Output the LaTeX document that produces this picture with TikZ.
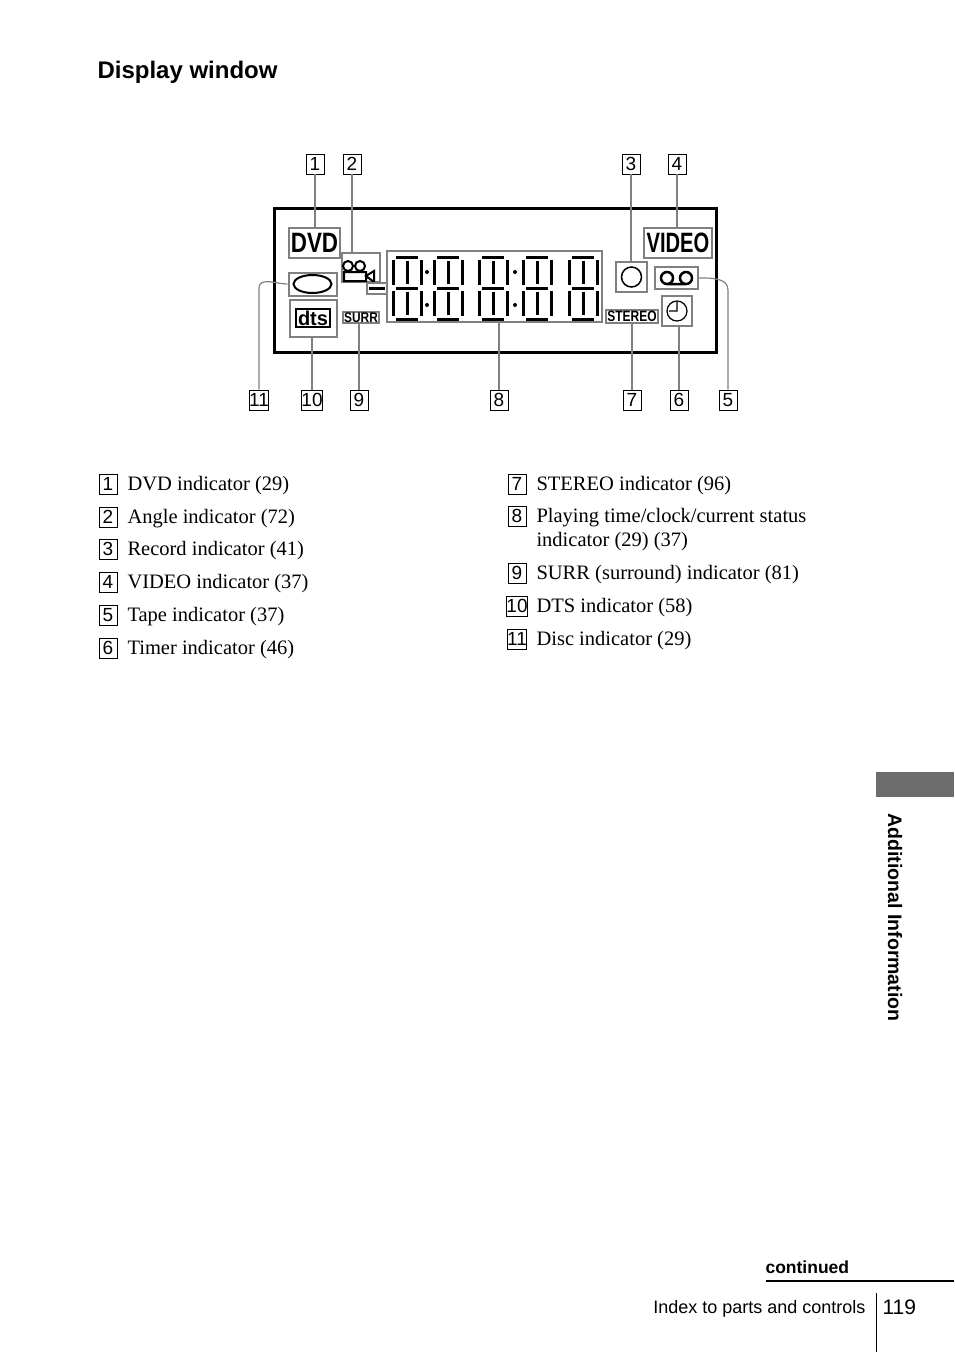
\documentclass[tikz,border=0pt]{standalone}
\usepackage{fontspec}
\setmainfont{Liberation Serif}
\setsansfont{Liberation Sans}
\usetikzlibrary{positioning}
\tikzset{
  num/.style={draw, line width=0.8pt, inner sep=0pt, minimum width=18pt, minimum height=20pt, font=\sffamily\fontsize{19}{19}\selectfont},
  ind/.style={draw=gray, line width=2pt},
  lead/.style={draw=gray, line width=1.2pt},
  item/.style={anchor=west, font=\fontsize{20.5}{24}\selectfont, align=left},
  seg/.style={line width=3pt, black},
}
\newcommand{\segdig}[2]{%
  \draw[seg] (#1-11,#2-31) -- (#1+11,#2-31) (#1-11,#2) -- (#1+11,#2) (#1-11,#2+31) -- (#1+11,#2+31)
    (#1-14,#2-28) -- (#1-14,#2-3) (#1+14,#2-28) -- (#1+14,#2-3)
    (#1-14,#2+3) -- (#1-14,#2+28) (#1+14,#2+3) -- (#1+14,#2+28)
    (#1,#2-27) -- (#1,#2-4) (#1,#2+4) -- (#1,#2+27);}
\begin{document}
\begin{tikzpicture}[x=1pt,y=-1pt]
\useasboundingbox (0,0) rectangle (954,1352);
% Title
\node[anchor=west, font=\sffamily\bfseries\fontsize{24}{24}\selectfont] (title) at (94,72) {Display window};

% Display window
\draw[line width=3pt] (274,208) rectangle (716,352);
\node[ind, minimum width=51pt, minimum height=30pt, inner sep=0pt, font=\sffamily\bfseries\fontsize{28}{28}\selectfont] (dvd) at (314.5,243) {\scalebox{0.8}[1]{DVD}};
\node[ind, minimum width=68pt, minimum height=30pt, inner sep=0pt, font=\sffamily\bfseries\fontsize{28}{28}\selectfont] (video) at (678,243) {\scalebox{0.72}[1]{VIDEO}};
\node[ind, minimum width=38pt, minimum height=29pt] (angle) at (360.5,267) {};
\draw[line width=2pt] (348,266) circle (5) (360,266) circle (5) (344,272) rectangle (366,281) (366,276) -- (374,271) -- (374,282) -- cycle;
\node[ind, minimum width=48pt, minimum height=23pt] (disc) at (312.5,284) {};
\draw[line width=2pt] (312.5,284) ellipse (19 and 9);
\node[ind, minimum width=47pt, minimum height=37pt] (dts) at (313,318) {};
\node[draw, line width=2pt, inner sep=2pt, font=\sffamily\bfseries\fontsize{20}{20}\selectfont] (dtsin) at (313,318) {dts};
\node[ind, inner sep=1pt, font=\sffamily\bfseries\fontsize{14}{14}\selectfont] (surr) at (361,317.5) {\scalebox{0.85}[1]{SURR}};
\node[ind, inner sep=1pt, font=\sffamily\bfseries\fontsize{15}{15}\selectfont] (stereo) at (632,316.5) {\scalebox{0.8}[1]{STEREO}};
\node[ind, minimum width=31pt, minimum height=30pt] (rec) at (631.5,277) {};
\draw[line width=1.5pt] (rec) circle (10);
\node[ind, minimum width=43pt, minimum height=22pt] (tape) at (676.5,278) {};
\draw[line width=2.5pt] (667,278) circle (6) (686,278) circle (6) (667,284) -- (686,284);
\node[ind, minimum width=30pt, minimum height=30pt] (timer) at (677,311) {};
\draw[line width=1.2pt] (timer) circle (10) (677,302) -- (677,311) -- (669,311);
\node[ind, minimum width=215pt, minimum height=71pt] (clock) at (494.5,286.5) {};
\draw[ind] (387,283) -- (367,283) -- (367,294) -- (387,294);
\draw[line width=3pt] (369,288.5) -- (385,288.5);
\foreach \cx in {407,448,493,537,583} {\segdig{\cx}{288}}
\foreach \cx in {427,515} {\fill (\cx,272) circle (2) (\cx,305) circle (2);}

% Callout numbers
\node[num] (n1) at (315,164) {1};
\node[num] (n2) at (352,164) {2};
\node[num] (n3) at (631,164) {3};
\node[num] (n4) at (677,164) {4};
\node[num] (n11) at (259,400) {11};
\node[num] (n10) at (312,400) {10};
\node[num] (n9) at (359,400) {9};
\node[num] (n8) at (499,400) {8};
\node[num] (n7) at (632,400) {7};
\node[num] (n6) at (679,400) {6};
\node[num] (n5) at (728,400) {5};

% Leaders
\draw[lead] (n1) -- (n1 |- dvd.north);
\draw[lead] (n2) -- (n2 |- angle.north);
\draw[lead] (n3) -- (n3 |- rec.north);
\draw[lead] (n4) -- (n4 |- video.north);
\draw[lead] (n10) -- (n10 |- dts.south);
\draw[lead] (n9) -- (n9 |- surr.south);
\draw[lead] (n8) -- (n8 |- clock.south);
\draw[lead] (n7) -- (n7 |- stereo.south);
\draw[lead] (n6) -- (n6 |- timer.south);
\draw[lead] (n11.north) -- (259,288) to[out=90,in=180] (disc.west);
\draw[lead] (n5.north) -- (728,290) to[out=90,in=0] (tape.east);

% Legend
\foreach \n/\y/\t in {1/484/DVD indicator (29), 2/517/Angle indicator (72), 3/549/Record indicator (41),
  4/582/VIDEO indicator (37), 5/615/Tape indicator (37), 6/648/Timer indicator (46)} {
  \node[num] (l\n) at (108,\y) {\n};
  \node[item] (t\n) at (124,\y+2) {\t};
}
\foreach \n/\y/\t in {7/484/{STEREO indicator (96)}, 8/516/{Playing time/clock/current status\\indicator (29) (37)},
  9/573/{SURR (surround) indicator (81)}, 10/606/{DTS indicator (58)}, 11/639/{Disc indicator (29)}} {
  \node[num] (l\n) at (517,\y) {\n};
  \node[item, anchor=north west] (t\n) at (533,\y-11) {\t};
}

% Side tab and footer
\fill[gray!85!black] (876,772) rectangle (954,797);
\node[rotate=-90, anchor=west, font=\sffamily\bfseries\fontsize{19.5}{19.5}\selectfont] (side) at (895,810) {Additional Information};
\node[anchor=west, font=\sffamily\bfseries\fontsize{17.5}{17.5}\selectfont] (cont) at (762,1267) {continued};
\draw[line width=2.5pt] (766,1281) -- (954,1281);
\node[anchor=east, font=\sffamily\fontsize{18}{18}\selectfont] (foot) at (869,1309) {Index to parts and controls};
\draw[line width=1pt] (876,1293) -- (876,1352);
\node[anchor=west, font=\sffamily\fontsize{21}{21}\selectfont] (page) at (879,1307) {119};
\end{tikzpicture}
\end{document}
